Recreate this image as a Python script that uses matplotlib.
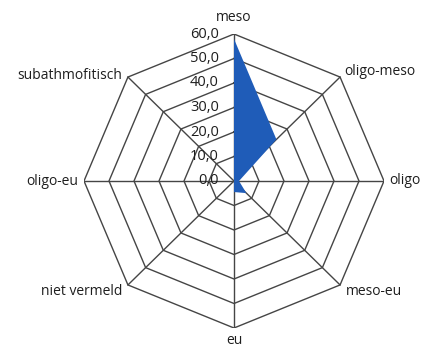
import numpy as np
import matplotlib
matplotlib.use("Agg")
import matplotlib.pyplot as plt

# Categories clockwise from the top, with the share (%) per class
categories = ["meso", "oligo-meso", "oligo", "meso-eu", "eu",
              "niet vermeld", "oligo-eu", "subathmofitisch"]
values = [58.0, 24.0, 2.0, 7.0, 4.5, 0.0, 0.0, 0.0]
ring_levels = [0, 10, 20, 30, 40, 50, 60]
ring_labels = ["0,0", "10,0", "20,0", "30,0", "40,0", "50,0", "60,0"]

FILL = "#1f5cb8"
GRID = "#454545"
TEXT = "#1e1e1e"

plt.rcParams["font.family"] = ["Open Sans", "DejaVu Sans"]

fig = plt.figure(figsize=(4.28, 3.49), dpi=100)
fig.patch.set_facecolor("white")
ax = fig.add_axes([84 / 428, 21 / 349, 300 / 428, 294 / 349])
ax.set_xlim(-60, 60)
ax.set_ylim(-60, 60)
ax.axis("off")

n = len(categories)
angles = np.pi / 2 - np.arange(n) * 2 * np.pi / n
ux, uy = np.cos(angles), np.sin(angles)

# Octagonal rings and spokes
for lvl in ring_levels[1:]:
    ax.plot(np.append(ux, ux[0]) * lvl, np.append(uy, uy[0]) * lvl,
            color=GRID, lw=1.0, zorder=1)
for x, y in zip(ux, uy):
    ax.plot([0, x * 60], [0, y * 60], color=GRID, lw=1.0, zorder=1)

# Data area
v = np.array(values)
ax.fill(ux * v, uy * v, color=FILL, lw=0, zorder=2)

# Value scale along the top spoke
for lvl, lab in zip(ring_levels, ring_labels):
    ax.annotate(lab, xy=(0, lvl), xytext=(-11, 0), textcoords="offset points",
                ha="right", va="center", fontsize=10.5, color=TEXT, zorder=3)

# Category labels around the outer ring
offsets = [(0, 12, "center"), (3, 4, "left"), (4, 0, "left"), (4, -5, "left"),
           (0, -9, "center"), (-4, -5, "right"), (-4, 0, "right"), (-4, 1, "right")]
for cat, x, y, (dx, dy, ha) in zip(categories, ux, uy, offsets):
    ax.annotate(cat, xy=(x * 60, y * 60), xytext=(dx, dy), textcoords="offset points",
                ha=ha, va="center", fontsize=10, color=TEXT)

fig.savefig("out.png", dpi=100, facecolor="white")
